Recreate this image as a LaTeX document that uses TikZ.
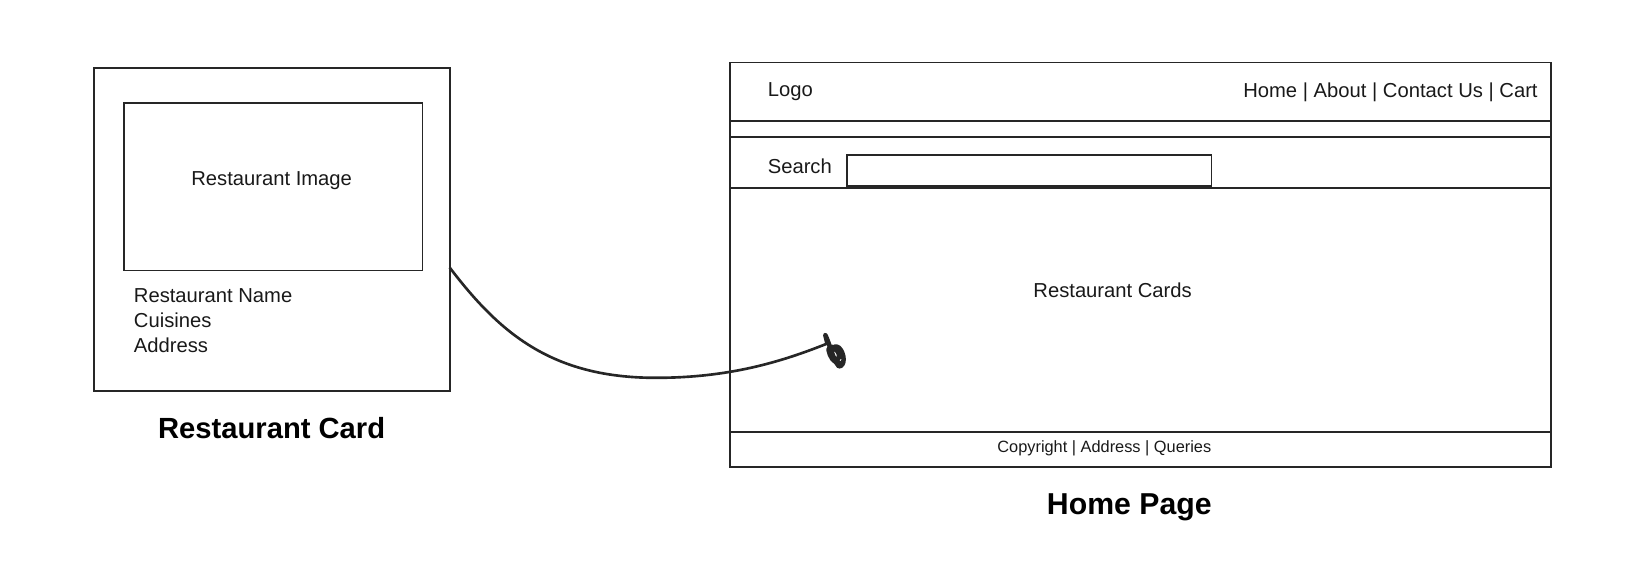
\documentclass[tikz,border=0pt]{standalone}
\usepackage{fontspec}
\setmainfont{Liberation Sans}
\usetikzlibrary{positioning,calc}

\begin{document}
\begin{tikzpicture}[
    x=0.010406cm, y=-0.010406cm,
    frame/.style={rectangle, draw=black!85, line width=0.5pt, inner sep=0pt, outer sep=0pt},
    label/.style={font=\fontsize{5.75}{7.0}\selectfont, text=black!90, inner sep=0pt},
    small/.style={font=\fontsize{4.65}{5.6}\selectfont, text=black!90, inner sep=0pt},
    title/.style={font=\bfseries\fontsize{8.3}{10}\selectfont, inner sep=0pt},
    link/.style={line width=0.75pt, draw=black!85}
]
\useasboundingbox (0,0) rectangle (1568,559);

% Restaurant card
\node[frame, minimum width=3.559cm, minimum height=3.236cm] (card) at (261,220.5) {};
\node[frame, minimum width=2.987cm, minimum height=1.675cm] (image) at (262.5,179.5) {};
\node[label] (imagetext) at (261,174) {Restaurant Image};
\node[label, anchor=north west, align=left] (details) at (128,277) {Restaurant Name\\Cuisines\\Address};
\node[title] (cardtitle) at (261,411) {Restaurant Card};

% Home page layout
\node[frame, minimum width=8.21cm, minimum height=0.583cm, anchor=north west] (header) at (701,60) {};
\node[frame, minimum width=8.21cm, minimum height=0.166cm, below=0pt of header] (strip) {};
\node[frame, minimum width=8.21cm, minimum height=0.510cm, below=0pt of strip] (searchbar) {};
\node[frame, minimum width=8.21cm, minimum height=2.435cm, below=0pt of searchbar] (content) {};
\node[frame, minimum width=8.21cm, minimum height=0.354cm, below=0pt of content] (footer) {};

\node[label, anchor=west] (logo) at (737,88.5) {Logo};
\node[label, anchor=east] (nav) at (1478,88.5) {Home | About | Contact Us | Cart};
\node[label, anchor=west] (searchtext) at (737,160) {Search};
\node[frame, minimum width=3.642cm, minimum height=0.312cm, anchor=west] (searchbox) at (814,164) {};
\node[label] (cardstext) at (1069,279) {Restaurant Cards};
\node[small] (footertext) at (1061,431) {Copyright | Address | Queries};
\node[title, font=\bfseries\fontsize{8.6}{10}\selectfont] (pagetitle) at (1085,487) {Home Page};

% Hand-drawn connector
\coordinate (start) at (card.east |- 0,257);
\coordinate (tip) at (795,330);
\draw[link] (start) .. controls (480,320) and (530,363) .. (630,363)
    .. controls (700,363) and (750,348) .. (tip);
\draw[link, line width=1.3pt, line join=round] (tip) -- (793,322)
    .. controls (797,330) and (800,345) .. (806,352)
    .. controls (812,352) and (812,340) .. (806,334)
    .. controls (800,330) and (796,338) .. (801,346)
    .. controls (805,348) and (808,342) .. (805,338)
    .. controls (801,333) and (797,331) .. (796,336)
    .. controls (797,342) and (801,350) .. (808,349);

\end{tikzpicture}
\end{document}
